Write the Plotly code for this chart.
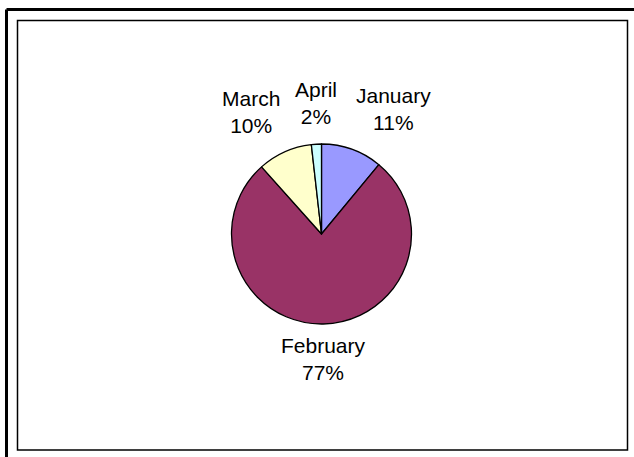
import math
import plotly.graph_objects as go

W, H = 634, 457

months = ['January', 'February', 'March', 'April']
shares = [11.0, 77.4, 9.8, 1.8]
colors = ['#9999FF', '#993366', '#FFFFCC', '#CCFFFF']

# pie centre and radius in pixels
cx, cy, r = 321.5, 234, 90
label_r = 105

fig = go.Figure()

fig.add_trace(
    go.Pie(
        labels=months,
        values=shares,
        sort=False,
        direction='clockwise',
        rotation=0,
        marker=dict(colors=colors, line=dict(color='#000000', width=1.3)),
        textinfo='none',
        showlegend=False,
        hoverinfo='skip',
        domain=dict(
            x=[(cx - r) / W, (cx + r) / W],
            y=[(H - cy - r) / H, (H - cy + r) / H],
        ),
    )
)

# Excel-style labels: box corner touches a point just beyond the slice mid-angle
total = sum(shares)
annotations = []
acc = 0
for month, share in zip(months, shares):
    mid = (acc + share / 2) / total * 2 * math.pi
    acc += share
    s, c = math.sin(mid), math.cos(mid)
    rr = label_r if c > 0 else label_r - 6
    px = cx + rr * 0.95 * s
    py = cy - rr * c
    if s > 0.2:
        xanchor = 'left'
    elif s < -0.2:
        xanchor = 'right'
    else:
        xanchor = 'center'
    yanchor = 'bottom' if c > 0 else 'top'
    annotations.append(dict(
        x=px / W, y=1 - py / H, xref='paper', yref='paper',
        text=f'{month}<br>{round(share / total * 100)}%',
        showarrow=False, align='center',
        xanchor=xanchor, yanchor=yanchor, borderpad=0,
        font=dict(family='Liberation Sans, Arial, sans-serif', size=21, color='#000000'),
    ))

fig.update_layout(
    width=W,
    height=H,
    margin=dict(l=0, r=0, t=0, b=0),
    paper_bgcolor='#FFFFFF',
    plot_bgcolor='#FFFFFF',
    annotations=annotations,
    shapes=[
        # outer chart frame (runs off the right and bottom edges)
        dict(type='line', xref='paper', yref='paper', x0=6.5 / W, x1=1.02, y0=1 - 9.5 / H, y1=1 - 9.5 / H,
             line=dict(color='#000000', width=3)),
        dict(type='line', xref='paper', yref='paper', x0=6.5 / W, x1=6.5 / W, y0=-0.02, y1=1 - 9.5 / H,
             line=dict(color='#000000', width=3)),
        # plot area frame
        dict(type='rect', xref='paper', yref='paper', x0=17.5 / W, x1=627.5 / W, y0=1 - 450 / H, y1=1 - 20.5 / H,
             line=dict(color='#000000', width=1.5)),
    ],
)

fig.write_html('out.html', config={'displayModeBar': False},
               post_script="document.body.style.margin='0';")
